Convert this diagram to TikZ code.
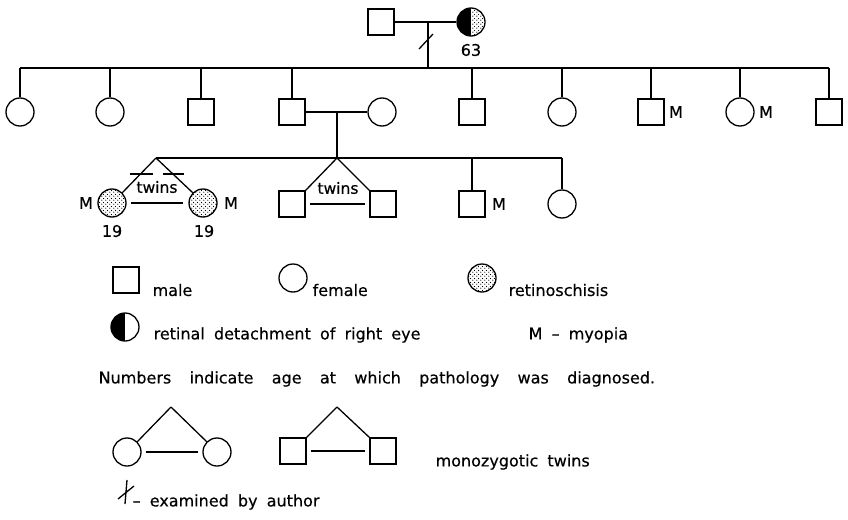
\documentclass[tikz,border=0pt]{standalone}
\usepackage{fontspec}
\setmainfont{DejaVu Sans}[WordSpace=1.8, FakeBold=0.4]
\newfontfamily\widefont{DejaVu Sans}[WordSpace=3.6, FakeBold=0.4]
\usetikzlibrary{patterns}
\pgfdeclarepatternformonly{stip}{\pgfpointorigin}{\pgfpoint{3.6pt}{3.6pt}}{\pgfpoint{3.6pt}{3.6pt}}{%
  \pgfpathcircle{\pgfpoint{0.9pt}{0.9pt}}{0.65pt}%
  \pgfpathcircle{\pgfpoint{2.7pt}{2.7pt}}{0.65pt}%
  \pgfusepath{fill}}
\begin{document}
\begin{tikzpicture}[x=1pt,y=-1pt, line width=1.3pt,
  male/.style={draw, rectangle, minimum size=26pt, inner sep=0pt},
  female/.style={draw, circle, minimum size=28pt, inner sep=0pt},
  affected/.style={female, pattern=stip},
  detach/.style={female, path picture={\fill (path picture bounding box.north west) rectangle (path picture bounding box.south);}},
  lbl/.style={font=\fontsize{16}{18}\selectfont, inner sep=0pt},
  twl/.style={font=\fontsize{15.5}{16}\selectfont, inner sep=0pt},
  txt/.style={lbl, anchor=west}]
\useasboundingbox (0,0) rectangle (848,519);

% Generation I
\node[male] (gf) at (381,22) {};
\node[female, path picture={
   \fill (path picture bounding box.north west) rectangle (path picture bounding box.south);
   \fill[pattern=stip] (path picture bounding box.north) rectangle (path picture bounding box.south east);}] (gm) at (471,22) {};
\node[lbl] (age63) at (471,50) {63};
\draw (gf.east) -- (gm.west);
\coordinate (d1) at (428,22);
\coordinate (sibA) at (20,68);
\coordinate (sibB) at (829,68);
\draw (d1) -- (d1 |- sibA);
\coordinate (x1a) at (419,49); \coordinate (x1b) at (433,34);
\draw (x1a) -- (x1b);
\draw (sibA) -- (sibB);

% Generation II
\node[female] (c1) at (20,112) {};
\node[female] (c2) at (110,112) {};
\node[male] (c3) at (201,112) {};
\node[male] (c4) at (292,112) {};
\node[female] (sp) at (382,112) {};
\node[male] (c5) at (472,112) {};
\node[female] (c6) at (562,112) {};
\node[male] (c7) at (651,112) {};
\node[female] (c8) at (740,112) {};
\node[male] (c9) at (829,112) {};
\foreach \c in {c1,c2,c3,c4,c5,c6,c7,c8,c9} \draw (\c.north) -- (\c.north |- sibA);
\node[lbl] (m7) at (676,112) {M};
\node[lbl] (m8) at (766,112) {M};
\draw (c4.east) -- (sp.west);
\coordinate (d2) at (337,112);
\coordinate (sibC) at (156,158);
\coordinate (sibD) at (562,158);
\draw (d2) -- (d2 |- sibC);
\draw (sibC) -- (sibD);

% Generation III: twin girls
\node[affected] (g1) at (112,203) {};
\node[affected] (g2) at (203,203) {};
\draw (sibC) -- (g1.45);
\draw (sibC) -- (g2.135);
\draw[shorten <=4pt, shorten >=5pt] (g1.east) -- (g2.west);
\node[twl] (tw1) at (157,187) {twins};
\coordinate (e1a) at (130,174); \coordinate (e1b) at (153,174);
\coordinate (e2a) at (163,174); \coordinate (e2b) at (184,174);
\draw (e1a) -- (e1b);
\draw (e2a) -- (e2b);
\node[lbl] (mg1) at (86,203) {M};
\node[lbl] (mg2) at (231,203) {M};
\node[lbl] (ag1) at (112,231) {19};
\node[lbl] (ag2) at (204,231) {19};

% twin boys
\coordinate (apB) at (337,158);
\node[male] (b1) at (292,204) {};
\node[male] (b2) at (383,204) {};
\draw (apB) -- (b1.north east);
\draw (apB) -- (b2.north west);
\draw[shorten <=4pt, shorten >=4pt] (b1.east) -- (b2.west);
\node[twl] (tw2) at (338,188) {twins};

\node[male] (c10) at (472,204) {};
\node[female] (c11) at (562,204) {};
\draw (c10.north) -- (c10.north |- sibC);
\draw (c11.north) -- (c11.north |- sibC);
\node[lbl] (m10) at (499,204) {M};

% Legend
\node[male] (Lm) at (126,280) {};
\node[txt] (Lmt) at (152,290) {male};
\node[female] (Lf) at (293,278) {};
\node[txt] (Lft) at (312,290) {female};
\node[affected] (Lr) at (482,278) {};
\node[txt] (Lrt) at (508,290) {retinoschisis};
\node[detach] (Ld) at (125,327) {};
\node[txt] (Ldt) at (153,335) {retinal detachment of right eye};
\node[txt] (Lmy) at (528,335) {M – myopia};
\node[txt, font=\widefont\fontsize{16}{18}\selectfont] (Lnum) at (98,379) {Numbers indicate age at which pathology was diagnosed.};

\coordinate (apL1) at (171,407);
\node[female] (Lt1) at (127,452) {};
\node[female] (Lt2) at (217,452) {};
\draw (apL1) -- (Lt1.45);
\draw (apL1) -- (Lt2.135);
\draw[shorten <=4pt, shorten >=4pt] (Lt1.east) -- (Lt2.west);
\coordinate (apL2) at (337,407);
\node[male] (Ls1) at (293,451) {};
\node[male] (Ls2) at (383,451) {};
\draw (apL2) -- (Ls1.north east);
\draw (apL2) -- (Ls2.north west);
\draw[shorten <=4pt, shorten >=4pt] (Ls1.east) -- (Ls2.west);
\node[txt] (Lmz) at (435,462) {monozygotic twins};

\coordinate (ex1) at (127,480); \coordinate (ex2) at (125,504);
\coordinate (ex3) at (118,499); \coordinate (ex4) at (134,486);
\draw (ex1) -- (ex2);
\draw (ex3) -- (ex4);
\node[txt] (Lex) at (132,502) {– examined by author};
\end{tikzpicture}
\end{document}
